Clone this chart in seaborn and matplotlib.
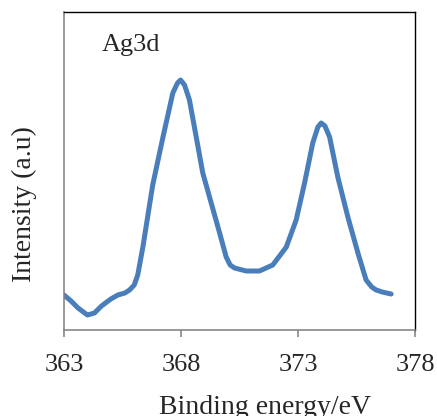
import matplotlib
matplotlib.use("Agg")
import matplotlib.pyplot as plt
import seaborn as sns
import pandas as pd

# Ag3d XPS spectrum (arbitrary units)
energy = [363.0, 363.3, 363.6, 364.0, 364.3, 364.6, 365.0, 365.3, 365.6, 365.8,
          366.0, 366.15, 366.37, 366.79, 367.22, 367.65, 367.85, 367.98, 368.15, 368.36,
          368.65, 368.93, 369.29, 369.65, 369.93, 370.1, 370.29, 370.79, 371.35, 371.92,
          372.5, 372.92, 373.28, 373.63, 373.85, 373.99, 374.15, 374.35, 374.7, 375.13,
          375.56, 375.91, 376.15, 376.34, 376.6, 376.98]
intensity = [35, 29, 22, 15, 17, 24, 31, 35, 37, 40,
             45, 55, 83, 145, 192, 237, 247, 250, 245, 230,
             193, 157, 127, 97, 73, 65, 62, 59, 59, 65,
             83, 110, 147, 187, 203, 207, 204, 193, 153, 113,
             77, 50, 43, 40, 38, 36]

xticks = [363, 368, 373, 378]

df = pd.DataFrame({"energy": energy, "intensity": intensity})

sns.set_style("white")
plt.rcParams["font.family"] = ["Liberation Serif", "DejaVu Serif"]

fig = plt.figure(figsize=(4.37, 4.16), dpi=100)
ax = fig.add_axes([0.1465, 0.2067, 0.8032, 0.7645])

sns.lineplot(data=df, x="energy", y="intensity", ax=ax, color="#4A7EBB",
             linewidth=3.6, solid_capstyle="round", solid_joinstyle="round")

ax.set_xlim(363, 378)
ax.set_ylim(0, 318)
ax.set_xticks(xticks)
ax.set_xticklabels([str(t) for t in xticks], fontsize=19)
ax.set_yticks([])
ax.tick_params(axis="x", direction="out", length=5, width=1.2, color="#868686", pad=12, bottom=True)

for side in ["left", "bottom"]:
    ax.spines[side].set_color("#868686")
    ax.spines[side].set_linewidth(1.2)
for side in ["top", "right"]:
    ax.spines[side].set_color("black")
    ax.spines[side].set_linewidth(1.0)

ax.set_xlabel("Binding energy/eV", fontsize=20)
ax.xaxis.set_label_coords(0.573, -0.205)
ax.set_ylabel("Intensity (a.u)", fontsize=20)
ax.yaxis.set_label_coords(-0.076, 0.396)
ax.text(0.108, 0.895, "Ag3d", transform=ax.transAxes, fontsize=19, va="center", ha="left")

fig.savefig("out.png", dpi=100)
